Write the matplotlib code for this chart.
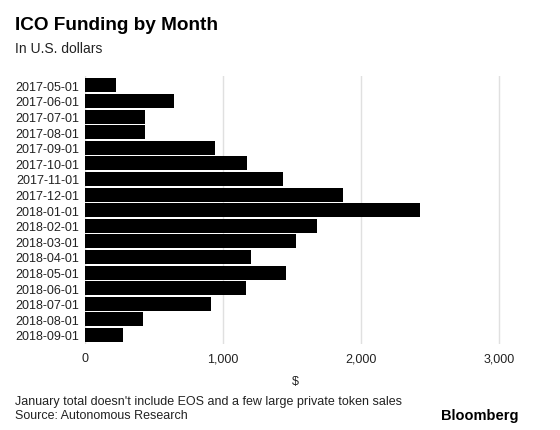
import matplotlib.pyplot as plt

# ICO funding by month
months = ['2017-05-01', '2017-06-01', '2017-07-01', '2017-08-01', '2017-09-01',
          '2017-10-01', '2017-11-01', '2017-12-01', '2018-01-01', '2018-02-01',
          '2018-03-01', '2018-04-01', '2018-05-01', '2018-06-01', '2018-07-01',
          '2018-08-01', '2018-09-01']
funding = [225, 643, 437, 437, 940, 1176, 1437, 1872, 2430, 1679,
           1530, 1205, 1457, 1164, 911, 419, 277]
xticks = [0, 1000, 2000, 3000]
xticklabels = ['0', '1,000', '2,000', '3,000']

plt.rcParams['font.family'] = ['Liberation Sans', 'DejaVu Sans']

W, H = 560, 431
fig = plt.figure(figsize=(W / 100, H / 100), dpi=100)

# axes box in pixels: x 85..506, y 77..345
left, right, top, bottom = 85, 505.9, 77, 345
ax = fig.add_axes([left / W, 1 - bottom / H, (right - left) / W, (bottom - top) / H])

ypos = list(range(len(months)))
ax.barh(ypos, funding, height=0.9, color='black', zorder=3)
ax.set_ylim(len(months) - 1 + 0.58, -0.6)
ax.set_xlim(0, 3050)

ax.set_yticks(ypos)
ax.set_yticklabels(months, fontsize=9, color='#222222')
ax.set_xticks(xticks)
ax.set_xticklabels(xticklabels, fontsize=9, color='#222222')
ax.tick_params(axis='y', length=0, pad=4)
ax.tick_params(axis='x', length=0, pad=6)
ax.grid(axis='x', color='#e0e0e0', linewidth=1, zorder=0)
for s in ax.spines.values():
    s.set_visible(False)

ax.set_xlabel('$', fontsize=9, color='#222222', labelpad=8)

fig.text(15 / W, 1 - 26 / H, 'ICO Funding by Month', fontsize=13.7, fontweight='bold',
         va='center', ha='left')
fig.text(15 / W, 1 - 49 / H, 'In U.S. dollars', fontsize=10, color='#222222',
         va='center', ha='left')
fig.text(15 / W, 1 - 402 / H, "January total doesn't include EOS and a few large private token sales",
         fontsize=9, color='#222222', va='center', ha='left')
fig.text(15 / W, 1 - 416 / H, 'Source: Autonomous Research', fontsize=9, color='#222222',
         va='center', ha='left')
fig.text(519 / W, 1 - 416 / H, 'Bloomberg', fontsize=10.5, fontweight='bold',
         va='center', ha='right')

fig.savefig('out.png', dpi=100)
